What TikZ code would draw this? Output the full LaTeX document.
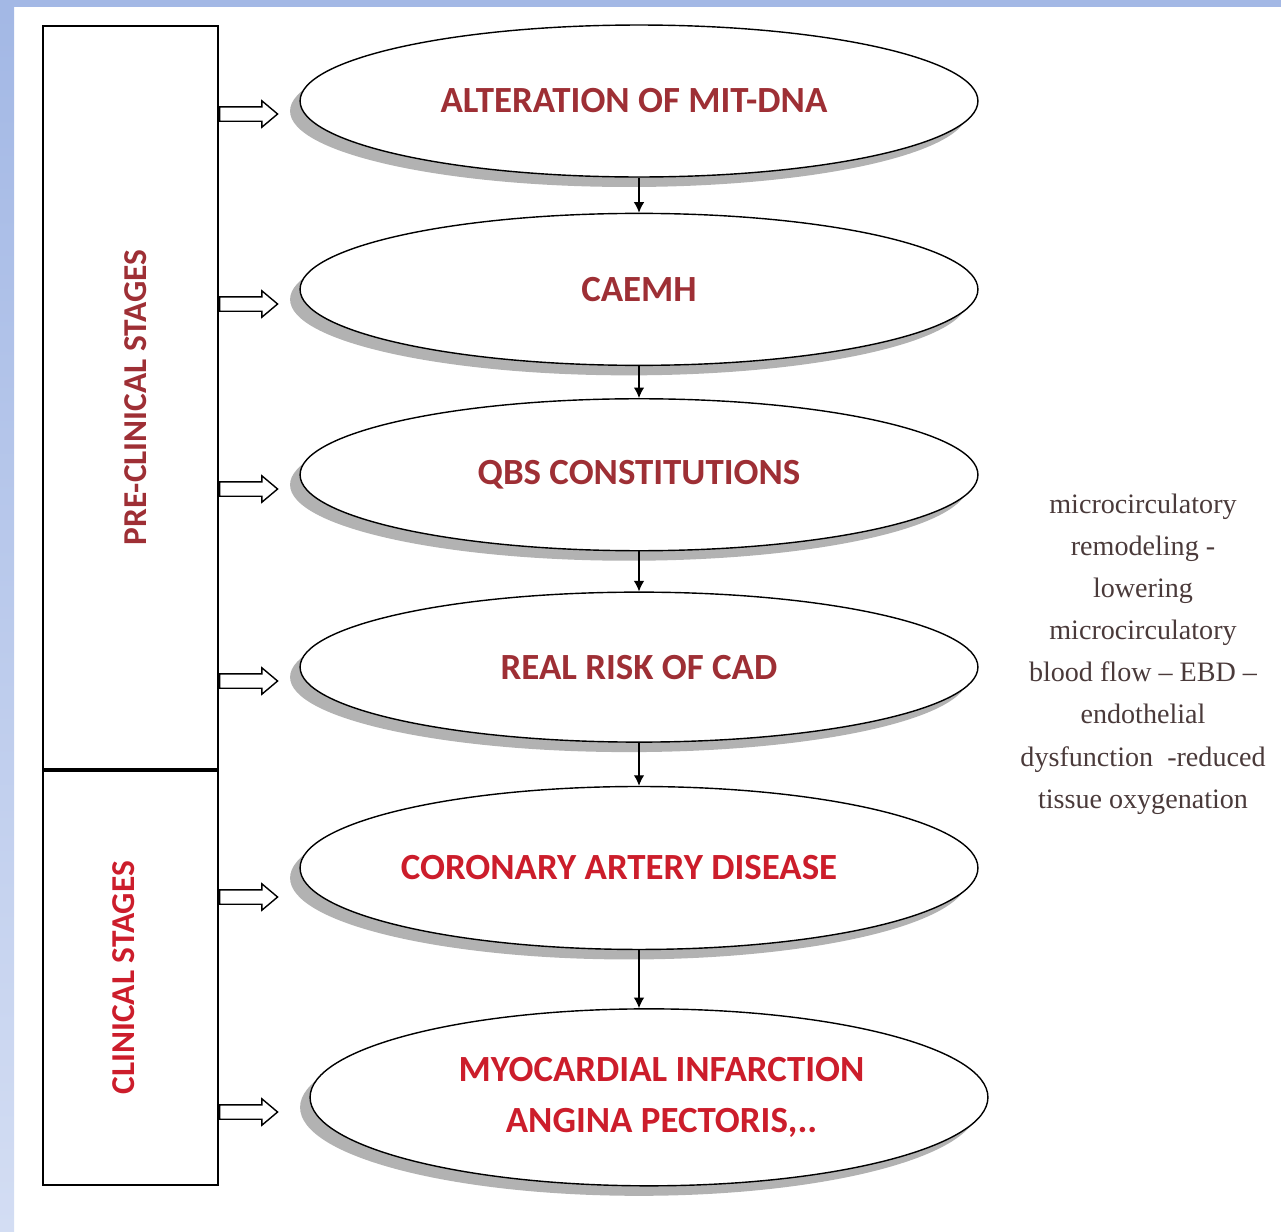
\documentclass[tikz,border=0pt]{standalone}
\usepackage{fontspec}
\setmainfont{Liberation Serif}
\newfontfamily\calibri{Carlito}
\usepackage{tikz}
\usetikzlibrary{shapes.geometric, shapes.arrows, arrows.meta, positioning, shadows}

\definecolor{stagered}{HTML}{9E2F35}
\definecolor{clinred}{HTML}{CC1D2B}
\definecolor{notegray}{HTML}{4A3A3A}
\definecolor{bandblue}{HTML}{A3B8E5}
\definecolor{bandpale}{HTML}{D3DDF3}

\tikzset{
  stage/.style={ellipse, draw, line width=0.8pt, fill=white, inner sep=0pt,
                minimum width=13.56cm, minimum height=3.04cm, align=center,
                font=\calibri\bfseries\fontsize{21}{29}\selectfont, text=stagered,
                drop shadow={shadow xshift=-0.2cm, shadow yshift=-0.2cm,
                             fill=black!30, opacity=1}},
  stagebox/.style={rectangle, draw, line width=1.1pt, minimum width=3.5cm, inner sep=0pt},
  sidelabel/.style={rotate=90, font=\calibri\bfseries\fontsize{19}{22}\selectfont},
  hollow/.style={single arrow, draw, line width=0.8pt, fill=white,
                 inner xsep=0pt, inner ysep=0.13cm, minimum height=1.16cm,
                 single arrow head extend=0.12cm, single arrow tip angle=80, anchor=tail},
  arrow/.style={-{Latex[length=6pt,width=6pt]}, line width=0.7pt}
}

\begin{document}
\begin{tikzpicture}[x=0.02cm, y=-0.02cm]
  % page with blue band
  \useasboundingbox (0,0) rectangle (1281,1231);
  \fill[bandblue] (0,0) rectangle (1281,7);
  \shade[top color=bandblue, bottom color=bandpale] (0,7) rectangle (14,1231);

  % stage boxes
  \node[stagebox, minimum height=14.86cm, anchor=north west] (pre) at (42,25) {};
  \node[stagebox, minimum height=8.28cm, anchor=north] (clin) at (pre.south) {};
  \node[sidelabel, text=stagered] (prelbl) at ([xshift=0.1cm]pre.center) {PRE-CLINICAL STAGES};
  \node[sidelabel, text=clinred] (clinlbl) at ([xshift=-0.13cm]clin.center) {CLINICAL STAGES};

  % chain
  \node[stage] (mit) at (639,101) {ALTERATION OF MIT-DNA\hspace*{0.2cm}};
  \node[stage, below=0.70cm of mit] (caemh) {CAEMH};
  \node[stage, below=0.64cm of caemh] (qbs) {QBS CONSTITUTIONS};
  \node[stage, below=0.80cm of qbs, minimum height=3.0cm] (risk) {REAL RISK OF CAD};
  \node[stage, below=0.86cm of risk, minimum height=3.26cm, text=clinred] (cad)
    {CORONARY ARTERY DISEASE\hspace*{0.8cm}};
  \node[stage, below=1.16cm of cad, xshift=0.2cm, minimum height=3.54cm, text=clinred] (mi)
    {\hspace*{0.5cm}MYOCARDIAL INFARCTION\\\hspace*{0.5cm}ANGINA PECTORIS,..};

  \draw[arrow] (mit) -- (caemh);
  \draw[arrow] (caemh) -- (qbs);
  \draw[arrow] (qbs) -- (risk);
  \draw[arrow] (risk) -- (cad);
  \draw[arrow] (cad.south) -- (cad.south |- mi.north);

  % hollow arrows out of the boxes
  \node[hollow] (h1) at (pre.east |- 0,114) {};
  \node[hollow] (h2) at (pre.east |- 0,304) {};
  \node[hollow] (h3) at (pre.east |- 0,489) {};
  \node[hollow] (h4) at (pre.east |- 0,681) {};
  \node[hollow] (h5) at (clin.east |- 0,897) {};
  \node[hollow] (h6) at (clin.east |- 0,1112) {};

  % side note
  \node[font=\fontsize{16}{24}\selectfont, text=notegray, align=center] (note) at (1143,654)
    {microcirculatory\\remodeling -\\lowering\\microcirculatory\\blood flow -- EBD --\\endothelial\\dysfunction\ \ -reduced\\tissue oxygenation};
\end{tikzpicture}
\end{document}
